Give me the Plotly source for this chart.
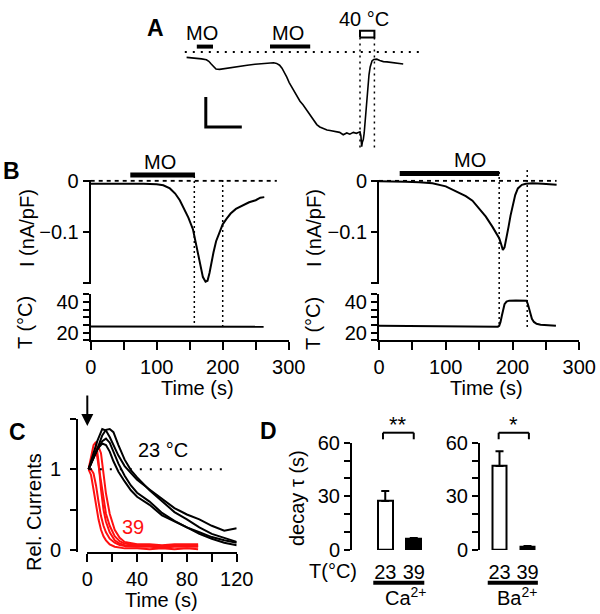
import plotly.graph_objects as go

W, H = 600, 614
FONT = "Liberation Sans, Arial, sans-serif"


def PX(x):
    return x / W


def PY(y):
    return 1 - y / H


# ---------------- Panel A data (time s, current pA) ----------------
a_time = [11, 20, 28, 36, 44, 48, 52, 56, 60, 66, 75, 85, 100, 112, 125, 138, 150, 156, 161, 166,
          170, 174, 178, 182, 186, 190, 195, 200, 205, 211, 216, 220, 224, 228, 233, 239, 245, 250,
          256, 261, 266, 272, 278, 283, 289, 294, 298, 300, 301.5, 302.8, 304, 305.5, 307, 308.5,
          310, 311.5, 313, 315, 317, 320, 323, 328, 333, 339, 345, 350, 356, 362, 367, 372]
a_current = [-9, -9.5, -10.8, -11.5, -13, -15.5, -20, -25, -28.5, -29, -27.5, -26, -23.5, -22,
             -20.5, -19.5, -17.5, -18, -19, -22, -27, -34, -42, -51, -58, -66, -75, -82, -88, -97,
             -103, -110, -115, -121, -125, -128, -130, -131, -132, -132.5, -134, -138, -135, -137,
             -134, -135.5, -134, -133, -140, -157.8, -150, -146, -135, -118, -95, -75, -55, -38,
             -25, -15, -12.5, -12, -14, -16, -16.5, -17, -17.5, -18.5, -19, -20]
a_baseline_t = [8, 400]
a_mo1 = [28, 55]
a_mo2 = [150, 217]
a_mo_level = 9
a_heat = [300, 324]
a_heat_box_I = [24, 35.5]
a_heat_line_I = [24, -160]
a_scale_t = [43, 43, 103]      # 60 s
a_scale_I = [-75, -125, -125]  # 50 pA

# ---------------- Panel B data ----------------
b1_time = [0, 20, 40, 60, 80, 100, 110, 120, 128, 135, 142, 148, 155, 160, 165, 170, 174, 177, 180,
           183, 186, 190, 195, 200, 206, 212, 220, 230, 240, 250, 257, 263]
b1_current = [-0.006, -0.006, -0.005, -0.006, -0.006, -0.007, -0.009, -0.015, -0.025, -0.038,
              -0.055, -0.072, -0.095, -0.125, -0.16, -0.188, -0.197, -0.195, -0.18, -0.158, -0.14,
              -0.118, -0.1, -0.085, -0.074, -0.064, -0.055, -0.048, -0.042, -0.038, -0.033, -0.032]
b1_temp_time = [0, 50, 100, 120, 150, 200, 262]
b1_temp = [24.0, 23.9, 23.8, 24.0, 23.9, 23.9, 23.9]
b1_mo = [60, 158]
b1_marks = [157, 200]

b2_time = [0, 20, 40, 60, 80, 100, 110, 120, 130, 140, 150, 160, 170, 175, 180, 183, 185.5, 188,
           191, 194, 197, 200, 204, 208, 214, 220, 230, 245, 266]
b2_current = [-0.001, -0.001, -0.002, -0.003, -0.005, -0.011, -0.017, -0.023, -0.03, -0.039,
              -0.054, -0.07, -0.09, -0.1, -0.112, -0.124, -0.135, -0.13, -0.112, -0.09, -0.068,
              -0.05, -0.028, -0.015, -0.008, -0.006, -0.005, -0.006, -0.008]
b2_temp_time = [0, 50, 100, 150, 178, 180, 182, 184, 186, 188, 191, 195, 205, 215, 221, 223, 225,
                227, 229, 232, 236, 242, 250, 265]
b2_temp = [24.5, 24.2, 23.9, 23.9, 23.9, 24.5, 27, 31, 35.5, 38.5, 40.2, 40.8, 40.9, 40.8, 40.7,
           38.5, 35, 31.5, 29, 27, 25.8, 25.2, 24.8, 24.5]
b2_mo = [31, 180]
b2_marks = [180, 222]

# ---------------- Panel C data ----------------
c_time_23 = [1, 4, 8, 12, 15, 18, 21, 25, 30, 35, 40, 50, 60, 70, 80, 90, 100, 110, 120]
c_rel_23 = [
    [1.0, 1.15, 1.35, 1.5, 1.48, 1.4, 1.3, 1.17, 1.04, 0.95, 0.87, 0.75, 0.63, 0.52, 0.44, 0.38, 0.3, 0.24, 0.27],
    [1.0, 1.1, 1.25, 1.42, 1.49, 1.5, 1.46, 1.3, 1.12, 0.99, 0.9, 0.74, 0.6, 0.47, 0.38, 0.28, 0.2, 0.15, 0.1],
    [1.0, 1.1, 1.24, 1.35, 1.38, 1.33, 1.22, 1.07, 0.92, 0.8, 0.71, 0.6, 0.46, 0.36, 0.28, 0.2, 0.14, 0.09, 0.06],
    [1.0, 1.12, 1.25, 1.32, 1.3, 1.22, 1.1, 0.97, 0.85, 0.74, 0.66, 0.56, 0.43, 0.35, 0.28, 0.22, 0.16, 0.12, 0.09],
]
c_time_39 = [1, 3, 5, 7, 9, 11, 13, 15, 18, 22, 26, 30, 40, 50, 60, 70, 80, 89]
c_rel_39 = [
    [1.0, 0.93, 0.75, 0.55, 0.38, 0.25, 0.17, 0.12, 0.07, 0.04, 0.03, 0.02, 0.02, 0.01, 0.02, 0.01, 0.02, 0.01],
    [1.0, 1.15, 1.3, 1.34, 1.1, 0.75, 0.5, 0.35, 0.22, 0.12, 0.08, 0.06, 0.05, 0.05, 0.04, 0.05, 0.05, 0.05],
    [1.0, 1.08, 1.15, 1.22, 1.28, 1.2, 0.95, 0.7, 0.45, 0.25, 0.15, 0.1, 0.07, 0.07, 0.06, 0.07, 0.07, 0.07],
    [1.0, 1.0, 0.95, 0.8, 0.6, 0.42, 0.3, 0.22, 0.14, 0.09, 0.06, 0.05, 0.04, 0.04, 0.03, 0.04, 0.04, 0.04],
    [1.0, 1.1, 1.2, 1.25, 1.05, 0.8, 0.6, 0.45, 0.3, 0.17, 0.11, 0.08, 0.06, 0.05, 0.05, 0.05, 0.05, 0.06],
]
c_ref_t = [-6, 114]
c_ref_level = 1

# ---------------- Panel D data ----------------
d_temps = ["23", "39"]
d_pos = [0, 1]
ca_tau = [27.4, 6.2]
ca_err = [5.6, 0.5]
ba_tau = [47.0, 2.0]
ba_err = [8.2, 0.3]

fig = go.Figure()
BLK = "black"
RED = "#ff1010"

# ---- Panel A traces ----
fig.add_trace(go.Scatter(x=a_baseline_t, y=[0, 0], mode="lines", xaxis="x", yaxis="y",
                         line=dict(color=BLK, width=2, dash="2px,6px")))
fig.add_trace(go.Scatter(x=a_time, y=a_current, mode="lines", xaxis="x", yaxis="y",
                         line=dict(color=BLK, width=1.6)))
for seg in (a_mo1, a_mo2):
    fig.add_trace(go.Scatter(x=seg, y=[a_mo_level] * 2, mode="lines", xaxis="x", yaxis="y",
                             line=dict(color=BLK, width=4)))
fig.add_trace(go.Scatter(x=[a_heat[0], a_heat[1], a_heat[1], a_heat[0], a_heat[0]],
                         y=[a_heat_box_I[0], a_heat_box_I[0], a_heat_box_I[1], a_heat_box_I[1], a_heat_box_I[0]],
                         mode="lines", xaxis="x", yaxis="y", line=dict(color=BLK, width=2)))
for t in a_heat:
    fig.add_trace(go.Scatter(x=[t, t], y=a_heat_line_I, mode="lines", xaxis="x", yaxis="y",
                             line=dict(color=BLK, width=1.5, dash="2px,4px")))
fig.add_trace(go.Scatter(x=a_scale_t, y=a_scale_I, mode="lines", xaxis="x", yaxis="y",
                         line=dict(color=BLK, width=3)))

# ---- Panel B traces ----
for xa, ya_i, ya_t, tt, cur, ttime, temp, tend in (
        ("x2", "y2", "y3", b1_time, b1_current, b1_temp_time, b1_temp, 282),
        ("x3", "y4", "y5", b2_time, b2_current, b2_temp_time, b2_temp, 266)):
    fig.add_trace(go.Scatter(x=[0, tend], y=[0, 0], mode="lines", xaxis=xa, yaxis=ya_i,
                             line=dict(color=BLK, width=2, dash="4px,4px")))
    fig.add_trace(go.Scatter(x=tt, y=cur, mode="lines", xaxis=xa, yaxis=ya_i,
                             line=dict(color=BLK, width=2)))
    fig.add_trace(go.Scatter(x=ttime, y=temp, mode="lines", xaxis=xa, yaxis=ya_t,
                             line=dict(color=BLK, width=2)))

# ---- Panel C traces ----
for vals in c_rel_39:
    fig.add_trace(go.Scatter(x=c_time_39, y=vals, mode="lines", xaxis="x4", yaxis="y6",
                             line=dict(color=RED, width=2)))
for vals in c_rel_23:
    fig.add_trace(go.Scatter(x=c_time_23, y=vals, mode="lines", xaxis="x4", yaxis="y6",
                             line=dict(color=BLK, width=2)))

# ---- Panel D bars ----
for xa, ya, vals, errs in (("x5", "y7", ca_tau, ca_err), ("x6", "y8", ba_tau, ba_err)):
    fig.add_trace(go.Bar(x=d_pos, y=vals, xaxis=xa, yaxis=ya, width=0.53,
                         marker=dict(color=["white", "black"], line=dict(color=BLK, width=2)),
                         error_y=dict(type="data", symmetric=False, array=errs, arrayminus=[0, 0],
                                      color=BLK, thickness=2, width=4)))

# ---- axes ----
tickfont = dict(size=20, family=FONT, color=BLK)


def ax(**kw):
    d = dict(showgrid=False, zeroline=False, showline=True, linecolor=BLK, linewidth=2,
             ticks="outside", ticklen=6, tickwidth=2, tickcolor=BLK, tickfont=tickfont,
             fixedrange=True, automargin=False)
    d.update(kw)
    return d


def minor(dt, t0=0, ln=6):
    return dict(ticks="outside", ticklen=ln, tickwidth=2, tickcolor=BLK, dtick=dt, tick0=t0,
                showgrid=False)


hidden = dict(visible=False, fixedrange=True, showgrid=False, zeroline=False, automargin=False)

layout = dict(
    template="none", autosize=False,
    width=W, height=H, margin=dict(l=0, r=0, t=0, b=0, pad=0, autoexpand=False),
    paper_bgcolor="white", plot_bgcolor="rgba(0,0,0,0)", showlegend=False, bargap=0,
    font=dict(family=FONT, color=BLK, size=20),
    xaxis=dict(hidden, domain=[PX(180), PX(420)], range=[0, 400], anchor="y"),
    yaxis=dict(hidden, domain=[PY(152), PY(28)], range=[-166.7, 40], anchor="x"),
    # B left
    xaxis2=ax(domain=[PX(90.7), PX(288.7)], range=[0, 300], anchor="y3",
              tickvals=[0, 100, 200, 300], ticklen=8, minor=minor(50, 0, 8)),
    yaxis2=ax(domain=[PY(284.3), PY(179.7)], range=[-0.202, 0.002], anchor="x2",
              tickvals=[0, -0.1], ticktext=["0", "\u22120.1"], minor=minor(0.1, 0)),
    yaxis3=ax(domain=[PY(340.4), PY(294.2)], range=[15, 45], anchor="x2",
              tickvals=[20, 40], minor=minor(5, 15)),
    # B right
    xaxis3=ax(domain=[PX(379), PX(579.3)], range=[0, 300], anchor="y5",
              tickvals=[0, 100, 200, 300], ticklen=8, minor=minor(50, 0, 8)),
    yaxis4=ax(domain=[PY(284.3), PY(179.7)], range=[-0.202, 0.002], anchor="x3",
              tickvals=[0, -0.1], ticktext=["0", "\u22120.1"], minor=minor(0.1, 0)),
    yaxis5=ax(domain=[PY(340.4), PY(294.2)], range=[15, 45], anchor="x3",
              tickvals=[20, 40], minor=minor(5, 15)),
    # C
    xaxis4=ax(domain=[PX(87.3), PX(236.7)], range=[0, 120], anchor="free",
              position=PY(553.3), tickvals=[0, 40, 80, 120], ticklen=8, minor=minor(20, 0, 8)),
    yaxis6=ax(domain=[PY(551.6), PY(419.3)], range=[-0.02, 1.62], anchor="free",
              position=PX(77), tickvals=[0, 1], minor=minor(1.12, 0.5), ticklabelstandoff=5),
    # D
    xaxis5=ax(domain=[PX(371), PX(428)], range=[-0.5, 1.5], anchor="y7", showline=False,
              ticks="", tickvals=d_pos, ticktext=d_temps, ticklabelstandoff=8),
    yaxis7=ax(domain=[PY(550), PY(442.7)], range=[0, 60], anchor="free", position=PX(351),
              tickvals=[0, 30, 60], minor=minor(10)),
    xaxis6=ax(domain=[PX(485.5), PX(541.5)], range=[-0.5, 1.5], anchor="y8", showline=False,
              ticks="", tickvals=d_pos, ticktext=d_temps, ticklabelstandoff=8),
    yaxis8=ax(domain=[PY(550), PY(442.7)], range=[0, 60], anchor="free", position=PX(479),
              tickvals=[0, 30, 60], minor=minor(10)),
)

shapes = []
# B: MO bars and dotted event lines
for xa, mo, marks, ymo, tops in (("x2", b1_mo, b1_marks, 175, [176, 180]),
                                 ("x3", b2_mo, b2_marks, 173.5, [172, 170])):
    shapes.append(dict(type="line", xref=xa, yref="paper", x0=mo[0], x1=mo[1],
                       y0=PY(ymo), y1=PY(ymo), line=dict(color=BLK, width=5)))
    for m, top in zip(marks, tops):
        shapes.append(dict(type="line", xref=xa, yref="paper", x0=m, x1=m, y0=PY(top), y1=PY(327),
                           line=dict(color=BLK, width=1.5, dash="2px,3px")))
# C: dotted reference at 1
shapes.append(dict(type="line", xref="x4", yref="y6", x0=c_ref_t[0], x1=c_ref_t[1],
                   y0=c_ref_level, y1=c_ref_level, line=dict(color=BLK, width=2, dash="2px,8px")))
# D: brackets and underlines
for xa, (l, r) in (("x5", (-0.08, 1.0)), ("x6", (-0.03, 1.05))):
    for x0, y0, x1, y1 in ((l, 439.3, l, 432.7), (l, 432.7, r, 432.7), (r, 432.7, r, 439.3)):
        shapes.append(dict(type="line", xref=xa, yref="paper", x0=x0, x1=x1, y0=PY(y0), y1=PY(y1),
                           line=dict(color=BLK, width=2)))
    shapes.append(dict(type="line", xref=xa, yref="paper", x0=-0.42, x1=1.37, y0=PY(582.7),
                       y1=PY(582.7), line=dict(color=BLK, width=4)))
layout["shapes"] = shapes


def txt(x, y, s, size=20, color=BLK, angle=0, xanchor="center"):
    return dict(x=PX(x), y=PY(y), xref="paper", yref="paper", text=s, showarrow=False,
                font=dict(size=size, color=color, family=FONT), xanchor=xanchor,
                yanchor="middle", textangle=angle)


ann = [
    txt(155, 28, "<b>A</b>", 23),
    txt(11, 171, "<b>B</b>", 23),
    txt(17, 432, "<b>C</b>", 23),
    txt(268, 431, "<b>D</b>", 23),
    txt(202, 33, "MO"),
    txt(288, 33, "MO"),
    txt(364, 19, "40 °C"),
    txt(160, 162, "MO"),
    txt(470, 160, "MO"),
    txt(27, 228, "I (nA/pF)", angle=-90),
    txt(25, 323, "T (°C)", angle=-90),
    txt(314, 228, "I (nA/pF)", angle=-90),
    txt(313, 323, "T (°C)", angle=-90),
    txt(197.5, 388, "Time (s)"),
    txt(486, 388, "Time (s)"),
    txt(34, 512, "Rel. Currents", angle=-90),
    txt(161, 600, "Time (s)"),
    txt(163, 450, "23 °C"),
    txt(133, 527, "39", color=RED),
    txt(297, 498, "decay τ (s)", angle=-90),
    txt(333, 571, "T(°C)"),
    txt(406, 596, "Ca<sup>2+</sup>"),
    txt(517, 596, "Ba<sup>2+</sup>"),
    txt(398, 424, "**", 22),
    txt(513, 424, "*", 22),
    dict(x=0, y=PY(426), xref="x4", yref="paper", ax=0, ay=-32, axref="pixel", ayref="pixel",
         showarrow=True, arrowhead=2, arrowsize=1.2, arrowwidth=2, arrowcolor=BLK, text=""),
]
layout["annotations"] = ann

fig.update_layout(**layout)
fig.write_html("out.html", config={"displayModeBar": False},
               post_script="document.body.style.margin='0px';document.body.style.overflow='hidden';")
